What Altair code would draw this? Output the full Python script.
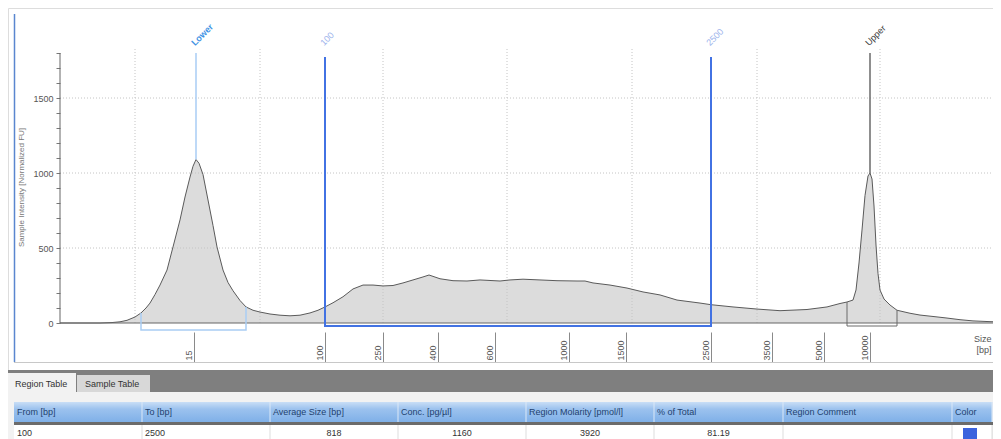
import altair as alt
import pandas as pd

FONT = "Liberation Sans"

# ---------------- electropherogram trace (position along run, FU) ----------------
trace_pos = [0, 40, 52, 60, 67, 75, 81, 86, 90, 95,
             100, 107, 113, 120, 125, 130, 133, 136, 139, 143,
             148, 153, 157, 163, 168, 173, 180, 186, 193, 200,
             210, 220, 230, 240, 250, 258, 265, 273, 283, 293,
             303, 313, 323, 333, 343, 353, 363, 369, 380, 393,
             407, 420, 440, 450, 463, 480, 497, 517, 525, 533,
             550, 567, 583, 600, 617, 640, 651, 673, 697, 720,
             747, 767, 780, 787, 793, 796, 799, 802, 805, 808,
             810, 812, 814, 816, 818, 820, 824, 830, 837, 850,
             860, 875, 887, 900, 913, 930, 941]
trace_fu = [0, 0, 3, 8, 18, 40, 67, 100, 133, 190,
            253, 353, 507, 687, 840, 973, 1045, 1090, 1065, 990,
            820, 650, 507, 353, 270, 215, 150, 107, 85, 73,
            60, 52, 48, 52, 67, 85, 107, 135, 175, 227,
            253, 253, 247, 250, 267, 287, 307, 320, 295, 282,
            280, 287, 280, 287, 292, 287, 282, 280, 280, 267,
            253, 233, 207, 187, 153, 133, 122, 107, 93, 82,
            90, 107, 130, 140, 153, 220, 400, 620, 850, 980,
            1000, 960, 780, 520, 330, 220, 160, 120, 85, 65,
            53, 42, 33, 22, 14, 9, 7]

# x axis: tick positions and their size labels [bp]
tick_pos = [134, 265, 323, 378, 435, 509, 566, 651, 712, 764, 810]
tick_bp = ["15", "100", "250", "400", "600", "1000", "1500", "2500", "3500", "5000", "10000"]

grid_pos = [75, 200, 323, 447, 572, 697, 820]
grid_fu = [500, 1000, 1500]

# markers (ladder + region)
marker_labels = ["Lower", "100", "2500", "Upper"]
marker_pos = [136, 265, 651, 810]
marker_label_colors = ["#3f93e4", "#9db4ec", "#9db4ec", "#404040"]
marker_label_weights = ["bold", "normal", "normal", "normal"]

ladder_pos = [136, 810]
ladder_peak = [1090, 1000]
ladder_colors = ["#a9cdf4", "#6a6a6a"]

bracket_group = ["Lower"] * 4 + ["Region"] * 4 + ["Upper"] * 4
bracket_pos = [81, 81, 186, 186, 265, 265, 651, 651, 787, 787, 837, 837]
bracket_fu = [67, -47, -47, 107, 1773, -20, -20, 1773, 140, -20, -20, 85]
bracket_colors = {"Lower": "#a9cdf4", "Region": "#4272e3", "Upper": "#6a6a6a"}
bracket_widths = {"Lower": 1.5, "Region": 2, "Upper": 1}

# region table
tab_names = ["Region Table", "Sample Table"]
table_headers = ["From [bp]", "To [bp]", "Average Size [bp]", "Conc. [pg/µl]",
                 "Region Molarity [pmol/l]", "% of Total", "Region Comment", "Color"]
table_row = ["100", "2500", "818", "1160", "3920", "81.19", "", ""]
region_color = "#3b63de"

# ---------------- layout ----------------
W, H, M = 985, 431, 8
AX_X = 60          # page x of the y axis (position 0)
BASE_Y = 323       # page y of 0 FU
PXF = 0.15         # px per FU
POS_MAX = M + W - AX_X


def px2pos(px):
    return px - AX_X


def py2fu(py):
    return (BASE_Y - py) / PXF


xs = alt.Scale(domain=[px2pos(M), px2pos(M + W)], nice=False, zero=False)
ys = alt.Scale(domain=[py2fu(M + H), py2fu(M)], nice=False, zero=False)

label_expr = " : ".join(f"datum.value == {p} ? '{l}'" for p, l in zip(tick_pos, tick_bp)) + " : ''"

xaxis = alt.Axis(orient="bottom", offset=-(M + H - (BASE_Y + 9)), domain=False, grid=False,
                 values=tick_pos, labelExpr=label_expr, tickSize=30, tickColor="#8a8a8a",
                 labelAngle=270, labelAlign="left", labelBaseline="bottom",
                 labelPadding=-2, labelOffset=-1, labelOverlap=False, labelFlush=False,
                 labelFont=FONT, labelFontSize=9, labelColor="#555555",
                 title=["Size", "[bp]"], titleX=991 - M, titleY=2, titleAlign="right",
                 titleBaseline="top", titleFont=FONT, titleFontSize=9,
                 titleFontWeight="normal", titleColor="#555555")
yaxis = alt.Axis(orient="left", offset=-(AX_X - M), domain=False, grid=False,
                 values=list(range(0, 1801, 100)), format="d",
                 labelExpr="datum.value % 500 == 0 ? datum.label : ''",
                 tickSize=4, tickColor="#777777", labelPadding=3,
                 labelFont=FONT, labelFontSize=9, labelColor="#555555",
                 title="Sample Intensity [Normalized FU]", titleX=-39, titleY=179,
                 titleAngle=270, titleAlign="center", titleBaseline="middle",
                 titleFont=FONT, titleFontSize=8, titleFontWeight="normal", titleColor="#777777")


def X(field):
    return alt.X(field, type="quantitative", scale=xs, axis=xaxis)


def Y(field):
    return alt.Y(field, type="quantitative", scale=ys, axis=yaxis)


# ---------------- UI chrome (panel frame, tabs, table) in page pixels ----------------
col_edges = [14, 142, 270, 398, 526, 654, 783, 952, 992]


def ui_frame(rows, cols):
    df = pd.DataFrame(rows, columns=cols)
    for c in ("x", "x2"):
        if c in df:
            df[c] = df[c].map(px2pos)
    for c in ("y", "y2"):
        if c in df:
            df[c] = df[c].map(py2fu)
    return df


ui_rect_df = ui_frame([
    (8, 993, 370, 392, "#7f7f7f"),
    (8, 993, 392, 439, "#f2f2f2"),
    (8, 76, 373, 393, "#f2f2f2"),
    (77, 150, 375, 392, "#d8d8d8"),
    (14, 993, 422, 425, "#6b6b6b"),
    (14, 992, 425, 439, "#ffffff"),
    (992, 993, 402, 422, "#dfe6ee"),
    (992, 993, 425, 439, "#ebebeb"),
    (963, 977, 428, 439, region_color),
], ["x", "x2", "y", "y2", "c"])

hdr_df = ui_frame([(14, 992, 402, 422)], ["x", "x2", "y", "y2"])

sep_df = ui_frame([(x, 402, 422, "#dbe8f7") for x in col_edges[1:]] +
                  [(x, 425, 439, "#dddddd") for x in col_edges[1:]],
                  ["x", "y", "y2", "c"])

frame_v_df = ui_frame([(14.5, 14, 362, "#5a86cf")], ["x", "y", "y2", "c"])
frame_h_df = ui_frame([(14, 993, 362.5, "#c8c8c8")], ["x", "x2", "y", "c"])

tab_df = ui_frame([(15, 384, tab_names[0]), (85, 384, tab_names[1])], ["x", "y", "t"])
hdr_text_df = ui_frame([(e + 3, 412, t) for e, t in zip(col_edges, table_headers)], ["x", "y", "t"])
row_left_df = ui_frame([(e + 3, 433, t) for e, t in zip(col_edges[:2], table_row[:2])], ["x", "y", "t"])
row_center_df = ui_frame([((col_edges[i] + col_edges[i + 1]) / 2, 433, table_row[i]) for i in range(2, 6)],
                         ["x", "y", "t"])

# ---------------- layers ----------------
trace_df = pd.DataFrame({"pos": trace_pos, "fu": trace_fu, "zero": [0] * len(trace_pos)})

layers = []

layers.append(alt.Chart(ui_rect_df).mark_rect().encode(
    x=X("x"), x2="x2:Q", y=Y("y"), y2="y2:Q", fill=alt.Fill("c:N", scale=None)))
layers.append(alt.Chart(hdr_df).mark_rect(
    fill=alt.LinearGradient(gradient="linear", x1=0, x2=0, y1=0, y2=1,
                            stops=[alt.GradientStop(color="#c9def6", offset=0),
                                   alt.GradientStop(color="#9cc2ee", offset=0.35),
                                   alt.GradientStop(color="#7fb0e8", offset=1)])).encode(
    x=X("x"), x2="x2:Q", y=Y("y"), y2="y2:Q"))
layers.append(alt.Chart(sep_df).mark_rule(strokeWidth=1).encode(
    x=X("x"), y=Y("y"), y2="y2:Q", color=alt.Color("c:N", scale=None)))
layers.append(alt.Chart(frame_v_df).mark_rule(strokeWidth=1.5).encode(
    x=X("x"), y=Y("y"), y2="y2:Q", color=alt.Color("c:N", scale=None)))
layers.append(alt.Chart(frame_h_df).mark_rule(strokeWidth=1).encode(
    x=X("x"), x2="x2:Q", y=Y("y"), color=alt.Color("c:N", scale=None)))
text_kw = dict(baseline="middle", font=FONT, fontSize=9)
layers.append(alt.Chart(tab_df).mark_text(align="left", color="#333333", **text_kw).encode(
    x=X("x"), y=Y("y"), text="t:N"))
layers.append(alt.Chart(hdr_text_df).mark_text(align="left", color="#23426e", **text_kw).encode(
    x=X("x"), y=Y("y"), text="t:N"))
layers.append(alt.Chart(row_left_df).mark_text(align="left", color="#333333", **text_kw).encode(
    x=X("x"), y=Y("y"), text="t:N"))
layers.append(alt.Chart(row_center_df).mark_text(align="center", color="#333333", **text_kw).encode(
    x=X("x"), y=Y("y"), text="t:N"))

# electropherogram
layers.append(alt.Chart(trace_df).mark_area(color="#dcdcdc", opacity=1).encode(
    x=X("pos"), y=Y("fu"), y2="zero:Q"))
layers.append(alt.Chart(pd.DataFrame({"pos": grid_pos, "lo": [0] * len(grid_pos),
                                      "hi": [1840] * len(grid_pos)})).mark_rule(
    color="#c4c4c4", strokeDash=[1, 2], strokeWidth=1).encode(
    x=X("pos"), y=Y("lo"), y2="hi:Q"))
layers.append(alt.Chart(pd.DataFrame({"fu": grid_fu, "lo": [0] * len(grid_fu),
                                      "hi": [POS_MAX] * len(grid_fu)})).mark_rule(
    color="#c4c4c4", strokeDash=[1, 2], strokeWidth=1).encode(
    y=Y("fu"), x=X("lo"), x2="hi:Q"))
layers.append(alt.Chart(trace_df).mark_line(color="#5a5a5a", strokeWidth=1).encode(
    x=X("pos"), y=Y("fu")))
layers.append(alt.Chart(pd.DataFrame({"fu": [0], "lo": [0], "hi": [POS_MAX]})).mark_rule(
    color="#666666", strokeWidth=1.2).encode(y=Y("fu"), x=X("lo"), x2="hi:Q"))
layers.append(alt.Chart(pd.DataFrame({"pos": [0], "lo": [0], "hi": [1800]})).mark_rule(
    color="#666666", strokeWidth=1).encode(x=X("pos"), y=Y("lo"), y2="hi:Q"))
layers.append(alt.Chart(pd.DataFrame({"pos": ladder_pos, "top": [1800, 1800], "peak": ladder_peak,
                                      "c": ladder_colors})).mark_rule(strokeWidth=1.5).encode(
    x=X("pos"), y=Y("top"), y2="peak:Q", color=alt.Color("c:N", scale=None)))

bdf = pd.DataFrame({"g": bracket_group, "pos": bracket_pos, "fu": bracket_fu,
                    "i": list(range(len(bracket_pos)))})
bdf["c"] = bdf["g"].map(bracket_colors)
bdf["w"] = bdf["g"].map(bracket_widths)
layers.append(alt.Chart(bdf).mark_line().encode(
    x=X("pos"), y=Y("fu"), detail="g:N", order="i:Q",
    color=alt.Color("c:N", scale=None), strokeWidth=alt.StrokeWidth("w:Q", scale=None)))

mdf = pd.DataFrame({"pos": marker_pos, "top": [1800] * 4, "t": marker_labels,
                    "c": marker_label_colors, "wt": marker_label_weights})
for wt in ("bold", "normal"):
    layers.append(alt.Chart(mdf[mdf["wt"] == wt]).mark_text(
        angle=315, align="left", baseline="middle", dx=4, dy=-8.5, font=FONT, fontSize=9,
        fontWeight=wt).encode(
        x=X("pos"), y=Y("top"), text="t:N", color=alt.Color("c:N", scale=None)))

chart = alt.layer(*layers).properties(
    width=W, height=H, autosize=alt.AutoSizeParams(type="none"), padding=0
).configure_view(stroke="transparent", strokeWidth=0, fill="white"
).configure_axis(domain=False).configure(background="white")

chart.save("out.html", embed_options={"renderer": "svg", "actions": False})
